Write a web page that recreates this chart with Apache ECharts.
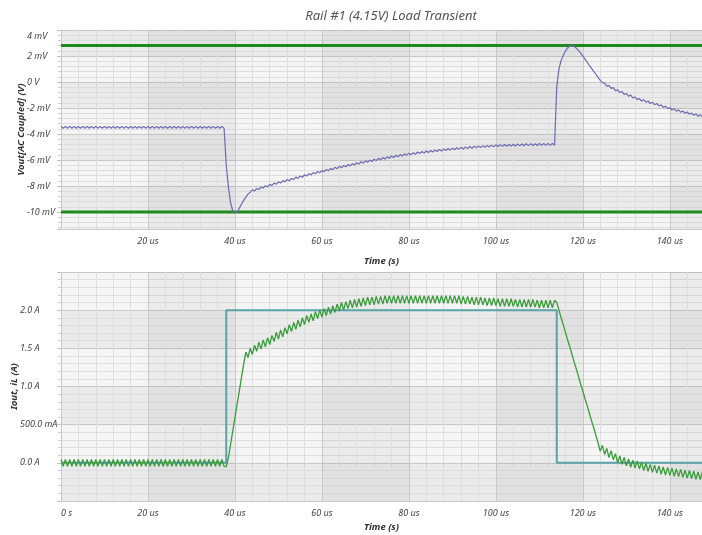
<!DOCTYPE html>
<html>
<head>
<meta charset="utf-8">
<script src="https://cdn.jsdelivr.net/npm/echarts@6/dist/echarts.min.js"></script>
<style>html,body{margin:0;padding:0;background:#fff}#c{width:702px;height:535px}</style>
</head>
<body>
<div id="c"></div>
<script>
// Sample times (us), shared by Vout and iL traces
const timeUs = [
0,0.5,1,1.5,2,2.5,3,3.5,4,4.5,5,5.5,6,6.5,7,7.5,8,8.5,9,9.5,
10,10.5,11,11.5,12,12.5,13,13.5,14,14.5,15,15.5,16,16.5,17,17.5,18,18.5,19,19.5,
20,20.5,21,21.5,22,22.5,23,23.5,24,24.5,25,25.5,26,26.5,27,27.5,28,28.5,29,29.5,
30,30.5,31,31.5,32,32.5,33,33.5,34,34.5,35,35.5,36,36.5,37,37.5,38,38.5,39,39.5,
40,40.5,41,41.5,42,42.5,43,43.5,44,44.5,45,45.5,46,46.5,47,47.5,48,48.5,49,49.5,
50,50.5,51,51.5,52,52.5,53,53.5,54,54.5,55,55.5,56,56.5,57,57.5,58,58.5,59,59.5,
60,60.5,61,61.5,62,62.5,63,63.5,64,64.5,65,65.5,66,66.5,67,67.5,68,68.5,69,69.5,
70,70.5,71,71.5,72,72.5,73,73.5,74,74.5,75,75.5,76,76.5,77,77.5,78,78.5,79,79.5,
80,80.5,81,81.5,82,82.5,83,83.5,84,84.5,85,85.5,86,86.5,87,87.5,88,88.5,89,89.5,
90,90.5,91,91.5,92,92.5,93,93.5,94,94.5,95,95.5,96,96.5,97,97.5,98,98.5,99,99.5,
100,100.5,101,101.5,102,102.5,103,103.5,104,104.5,105,105.5,106,106.5,107,107.5,108,108.5,109,109.5,
110,110.5,111,111.5,112,112.5,113,113.5,114,114.5,115,115.5,116,116.5,117,117.5,118,118.5,119,119.5,
120,120.5,121,121.5,122,122.5,123,123.5,124,124.5,125,125.5,126,126.5,127,127.5,128,128.5,129,129.5,
130,130.5,131,131.5,132,132.5,133,133.5,134,134.5,135,135.5,136,136.5,137,137.5,138,138.5,139,139.5,
140,140.5,141,141.5,142,142.5,143,143.5,144,144.5,145,145.5,146,146.5,147,147.5
];

// Vout (AC coupled), mV
const voutMv = [
-3.41,-3.55,-3.41,-3.55,-3.41,-3.55,-3.41,-3.55,-3.41,-3.55,-3.41,-3.55,-3.41,-3.55,-3.41,-3.55,-3.41,-3.55,-3.41,-3.55,
-3.41,-3.55,-3.41,-3.55,-3.41,-3.55,-3.41,-3.55,-3.41,-3.55,-3.41,-3.55,-3.41,-3.55,-3.41,-3.55,-3.41,-3.55,-3.41,-3.55,
-3.41,-3.55,-3.41,-3.55,-3.41,-3.55,-3.41,-3.55,-3.41,-3.55,-3.41,-3.55,-3.41,-3.55,-3.41,-3.55,-3.41,-3.55,-3.41,-3.55,
-3.41,-3.55,-3.41,-3.55,-3.41,-3.55,-3.41,-3.55,-3.41,-3.55,-3.41,-3.55,-3.41,-3.55,-3.41,-3.55,
-6.4,-8.1,-9.3,-9.9,-10.0,-10.0,-9.7,-9.4,-9.1,-8.85,-8.62,-8.48,
-8.29,-8.38,-8.18,-8.27,-8.07,-8.16,-7.97,-8.06,-7.87,-7.96,-7.77,-7.86,-7.67,-7.77,-7.58,-7.68,-7.49,-7.59,-7.40,-7.50,
-7.31,-7.41,-7.22,-7.32,-7.13,-7.23,-7.04,-7.14,-6.96,-7.06,-6.88,-6.98,-6.80,-6.90,-6.72,-6.82,-6.64,-6.74,-6.56,-6.66,
-6.48,-6.59,-6.41,-6.52,-6.34,-6.45,-6.27,-6.38,-6.20,-6.31,-6.13,-6.24,-6.06,-6.17,-6.00,-6.11,-5.94,-6.05,-5.87,-5.98,
-5.81,-5.92,-5.75,-5.86,-5.69,-5.80,-5.63,-5.75,-5.58,-5.69,-5.52,-5.64,-5.47,-5.59,-5.43,-5.55,-5.38,-5.50,-5.34,-5.46,
-5.30,-5.42,-5.26,-5.38,-5.22,-5.34,-5.18,-5.30,-5.14,-5.27,-5.11,-5.24,-5.08,-5.21,-5.05,-5.18,-5.02,-5.15,-4.99,-5.12,
-4.96,-5.09,-4.93,-5.06,-4.91,-5.04,-4.89,-5.02,-4.87,-5.00,-4.85,-4.98,-4.83,-4.96,-4.81,-4.95,-4.80,-4.94,-4.79,-4.93,
-4.78,-4.92,-4.77,-4.91,-4.76,-4.90,-4.75,-4.89,-4.74,-4.88,-4.74,-4.88,-4.73,-4.87,-4.73,-4.87,-4.72,-4.86,-4.72,-4.86,
-0.35,1.0,1.65,2.05,2.38,2.62,2.78,2.8,2.74,2.6,2.42,2.22,2.0,1.76,1.52,1.28,1.05,0.82,0.6,0.36,0.13,-0.05,
-0.09,-0.32,-0.26,-0.49,-0.43,-0.66,-0.60,-0.81,-0.74,-0.95,-0.88,-1.09,-1.01,-1.22,-1.15,-1.35,-1.27,-1.46,-1.36,-1.55,
-1.46,-1.65,-1.55,-1.74,-1.65,-1.84,-1.75,-1.95,-1.86,-2.05,-1.96,-2.15,-2.05,-2.24,-2.14,-2.32,-2.22,-2.40,-2.30,-2.48,
-2.38,-2.56,-2.45,-2.63,-2.52,-2.69
];

// Inductor current iL, A
const ilA = [
0.045,-0.045,0.045,-0.045,0.045,-0.045,0.045,-0.045,0.045,-0.045,0.045,-0.045,0.045,-0.045,0.045,-0.045,0.045,-0.045,0.045,-0.045,
0.045,-0.045,0.045,-0.045,0.045,-0.045,0.045,-0.045,0.045,-0.045,0.045,-0.045,0.045,-0.045,0.045,-0.045,0.045,-0.045,0.045,-0.045,
0.045,-0.045,0.045,-0.045,0.045,-0.045,0.045,-0.045,0.045,-0.045,0.045,-0.045,0.045,-0.045,0.045,-0.045,0.045,-0.045,0.045,-0.045,
0.045,-0.045,0.045,-0.045,0.045,-0.045,0.045,-0.045,0.045,-0.045,0.045,-0.045,0.045,-0.045,0.045,-0.045,
-0.05,
0.07,0.24,0.42,0.59,0.77,0.94,1.12,1.29,
1.45,
1.38,1.50,1.42,1.54,1.46,1.58,1.49,1.61,1.52,1.64,1.55,1.67,1.59,1.71,1.62,1.74,1.65,1.77,1.69,1.81,
1.72,1.84,1.75,1.87,1.78,1.90,1.81,1.93,1.84,1.95,1.86,1.98,1.89,2.00,1.91,2.02,1.93,2.04,1.95,2.06,
1.97,2.08,1.99,2.10,2.00,2.11,2.02,2.13,2.03,2.14,2.04,2.15,2.05,2.16,2.06,2.17,2.07,2.17,2.07,2.18,
2.08,2.18,2.08,2.19,2.09,2.19,2.09,2.19,2.09,2.19,2.09,2.19,2.09,2.19,2.09,2.19,2.09,2.19,2.09,2.19,
2.09,2.19,2.09,2.19,2.09,2.19,2.09,2.19,2.09,2.19,2.09,2.19,2.09,2.19,2.09,2.19,2.09,2.19,2.08,2.18,
2.08,2.18,2.08,2.17,2.07,2.17,2.07,2.17,2.07,2.16,2.06,2.16,2.06,2.16,2.06,2.15,2.05,2.15,2.05,2.15,
2.05,2.15,2.05,2.14,2.04,2.14,2.04,2.14,2.04,2.14,2.04,2.14,2.04,2.13,2.03,2.13,2.03,2.13,2.03,2.13,
2.03,2.13,
2.10,2.0,1.90,1.81,1.71,1.61,1.52,1.42,1.32,1.23,1.13,1.03,0.94,0.84,0.75,0.65,0.55,0.46,0.36,0.26,
0.15,0.23,0.11,0.19,0.07,0.16,0.04,0.12,0.00,0.09,-0.02,0.07,-0.04,0.05,-0.06,0.035,-0.07,0.025,-0.08,0.01,
-0.10,-0.005,-0.11,-0.02,-0.125,-0.03,-0.135,-0.04,-0.15,-0.055,-0.16,-0.06,-0.165,-0.07,-0.175,-0.08,-0.18,-0.085,-0.19,-0.095,
-0.20,-0.10,-0.205,-0.11,-0.215,-0.12,-0.22,-0.12
];

// Load current step Iout
const ioutT = [0, 38, 38, 114, 114, 147.4];
const ioutA = [0, 0, 2, 2, 0, 0];

// Vout limit lines (mV)
const limitUpperMv = 2.8;
const limitLowerMv = -10;
const xStartUs = 0, xEndUs = 147.4;

// Tick-label helpers
const xTickUs = [0, 20, 40, 60, 80, 100, 120, 140];
const voutTickMv = [-10, -8, -6, -4, -2, 0, 2, 4];
const ilTickA = [0, 0.5, 1, 1.5, 2];

function zip(a, b) { return a.map((v, i) => [v, b[i]]); }

const FONT = 'Noto Sans';
const labelBase = { fontFamily: FONT, fontStyle: 'italic', fontSize: 9, color: '#444' };
const nameStyle = { fontFamily: FONT, fontStyle: 'italic', fontWeight: 'bold', fontSize: 9.5, color: '#333' };
const majorGrid = { show: true, lineStyle: { color: '#c8c8c8', width: 1 } };
const minorGrid = { show: true, lineStyle: { color: '#dedede', width: 1 } };
const DARK = 'rgba(0,0,0,0.04)', CLEAR = 'rgba(0,0,0,0)';

function near(v, arr) { return arr.some(t => Math.abs(t - v) < 1e-6); }

function xAxis(gridIndex, showZero, nameGap) {
  return {
    type: 'value', gridIndex, min: xStartUs, max: xEndUs, interval: 20,
    axisLine: { show: false },
    axisTick: { show: true, length: 5, lineStyle: { color: '#c0c0c0' } },
    minorTick: { show: true, splitNumber: 5, length: 4, lineStyle: { color: '#d0d0d0' } },
    axisLabel: Object.assign({}, labelBase, {
      margin: 8, alignMinLabel: 'left',
      formatter: v => {
        if (!near(v, xTickUs)) return '';
        if (v === 0) return showZero ? '0 s' : '';
        return v + ' us';
      }
    }),
    splitLine: majorGrid, minorSplitLine: minorGrid,
    splitArea: { show: true, areaStyle: { color: [CLEAR, DARK] } },
    name: 'Time (s)', nameLocation: 'middle', nameGap, nameMoveOverlap: false, nameTextStyle: nameStyle
  };
}

const gridBase = { left: 61, right: 0, show: true, backgroundColor: '#f5f5f5', borderWidth: 0, containLabel: false, outerBoundsMode: 'none' };

const option = {
  animation: false,
  backgroundColor: '#ffffff',
  title: {
    text: 'Rail #1 (4.15V) Load Transient',
    left: 386, top: 5, textAlign: 'center',
    textStyle: { fontFamily: FONT, fontStyle: 'italic', fontWeight: 'normal', fontSize: 13, color: '#555' }
  },
  grid: [
    Object.assign({}, gridBase, { top: 30, height: 199 }),
    Object.assign({}, gridBase, { top: 272, height: 229 })
  ],
  xAxis: [xAxis(0, false, 27), xAxis(1, true, 21)],
  yAxis: [
    {
      type: 'value', gridIndex: 0, min: -11.3, max: 4, splitNumber: 7, minInterval: 2, maxInterval: 2,
      axisLine: { show: false },
      axisTick: { show: true, length: 4, lineStyle: { color: '#c0c0c0' } },
      minorTick: { show: true, splitNumber: 5, length: 3, lineStyle: { color: '#d0d0d0' } },
      axisLabel: Object.assign({}, labelBase, {
        align: 'left', margin: 34,
        formatter: v => {
          if (!near(v, voutTickMv)) return '';
          if (v === 0) return '0 V';
          if (v === 4) return '{t|4 mV}';
          return v + ' mV';
        },
        rich: { t: Object.assign({}, labelBase, { padding: [13, 0, 0, 0] }) }
      }),
      splitLine: majorGrid, minorSplitLine: minorGrid,
      splitArea: { show: true, areaStyle: { color: [CLEAR, DARK] } },
      name: 'Vout[AC Coupled] (V)', nameLocation: 'middle', nameGap: 35, nameMoveOverlap: false, nameTextStyle: nameStyle
    },
    {
      type: 'value', gridIndex: 1, min: -0.5, max: 2.5, interval: 0.5,
      axisLine: { show: false },
      axisTick: { show: true, length: 4, lineStyle: { color: '#c0c0c0' } },
      minorTick: { show: true, splitNumber: 5, length: 3, lineStyle: { color: '#d0d0d0' } },
      axisLabel: Object.assign({}, labelBase, {
        align: 'left', margin: 41,
        formatter: v => {
          if (!near(v, ilTickA)) return '';
          if (Math.abs(v - 0.5) < 1e-6) return '500.0 mA';
          return v.toFixed(1) + ' A';
        }
      }),
      splitLine: majorGrid, minorSplitLine: minorGrid,
      splitArea: { show: true, areaStyle: { color: [DARK, CLEAR] } },
      name: 'Iout, iL (A)', nameLocation: 'middle', nameGap: 42, nameMoveOverlap: false, nameTextStyle: nameStyle
    }
  ],
  series: [
    {
      name: 'Upper limit', type: 'line', xAxisIndex: 0, yAxisIndex: 0, symbol: 'none', silent: true,
      data: [[xStartUs, limitUpperMv], [xEndUs, limitUpperMv]],
      lineStyle: { color: '#1e8a1e', width: 3 }
    },
    {
      name: 'Lower limit', type: 'line', xAxisIndex: 0, yAxisIndex: 0, symbol: 'none', silent: true,
      data: [[xStartUs, limitLowerMv], [xEndUs, limitLowerMv]],
      lineStyle: { color: '#1e8a1e', width: 3 }
    },
    {
      name: 'Vout', type: 'line', xAxisIndex: 0, yAxisIndex: 0, symbol: 'none',
      data: zip(timeUs, voutMv),
      lineStyle: { color: '#6b6bb2', width: 1.2 }
    },
    {
      name: 'Iout', type: 'line', xAxisIndex: 1, yAxisIndex: 1, symbol: 'none',
      data: zip(ioutT, ioutA),
      lineStyle: { color: '#5aa3a6', width: 2 }
    },
    {
      name: 'iL', type: 'line', xAxisIndex: 1, yAxisIndex: 1, symbol: 'none',
      data: zip(timeUs, ilA),
      lineStyle: { color: '#3a9c3a', width: 1.3 }
    }
  ]
};

const chart = echarts.init(document.getElementById('c'), null, { renderer: 'canvas' });
chart.setOption(option);
</script>
</body>
</html>
